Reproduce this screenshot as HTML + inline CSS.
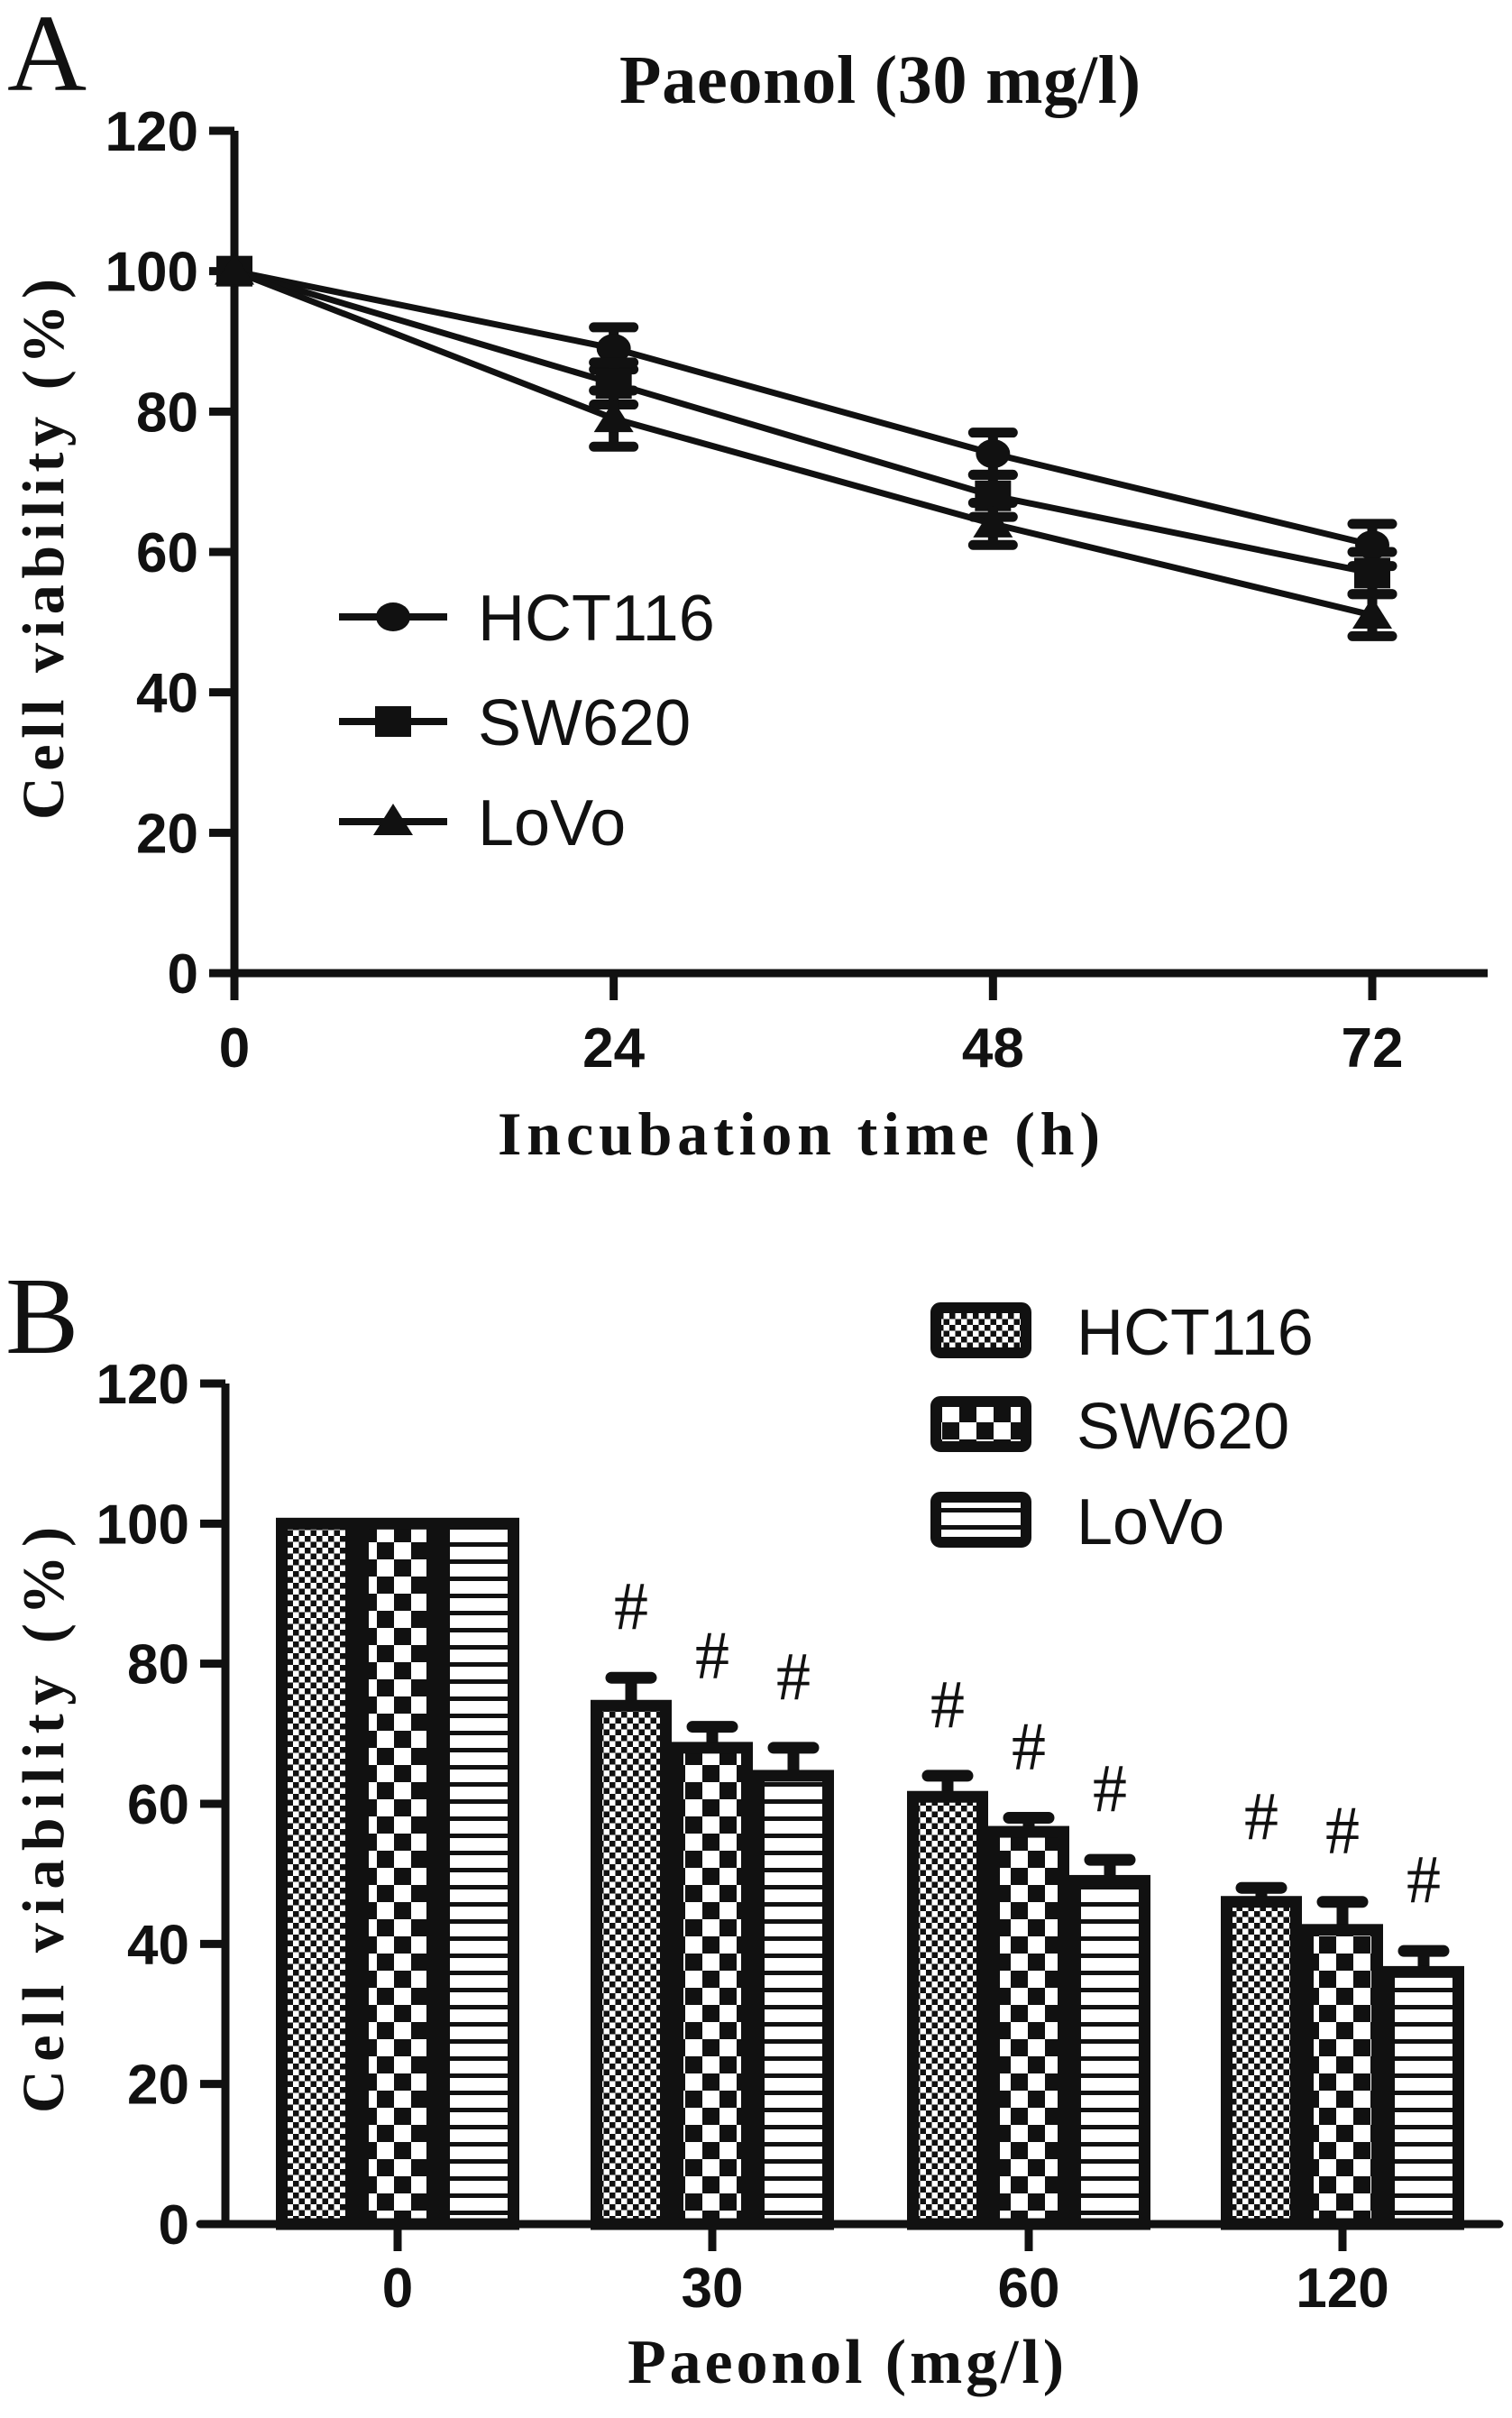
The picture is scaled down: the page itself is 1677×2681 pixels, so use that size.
<!DOCTYPE html>
<html><head><meta charset="utf-8"><style>
html,body{margin:0;padding:0;background:#fff;}
svg{display:block;}
.tick{font-family:"Liberation Sans Narrow","Liberation Sans",sans-serif;font-weight:bold;font-size:62px;fill:#111;}
.ser{font-family:"Liberation Serif",serif;fill:#111;}
.leg{font-family:"Liberation Sans",sans-serif;font-size:72px;fill:#111;}
</style></head><body>
<svg id="fig" width="1677" height="2681" viewBox="0 0 1677 2681" xmlns="http://www.w3.org/2000/svg">
<defs>
 <pattern id="pHCT" patternUnits="userSpaceOnUse" width="13" height="13"><rect width="13" height="13" fill="#fff"/><rect width="6.5" height="6.5" fill="#111"/><rect x="6.5" y="6.5" width="6.5" height="6.5" fill="#111"/></pattern>
 <pattern id="pSW" patternUnits="userSpaceOnUse" width="38" height="38"><rect width="38" height="38" fill="#fff"/><rect width="19" height="19" fill="#111"/><rect x="19" y="19" width="19" height="19" fill="#111"/></pattern>
 <pattern id="pLO" patternUnits="userSpaceOnUse" width="19" height="19"><rect width="19" height="19" fill="#fff"/><rect y="0" width="19" height="5" fill="#111"/></pattern>
</defs>
<g id="chartA"></g>
<g id="chartB"></g>
</svg>
<script>
// ---- Chart A data ----
const timesA = [0, 24, 48, 72];
const yTicksA = [0, 20, 40, 60, 80, 100, 120];
const seriesNamesA = ["HCT116", "SW620", "LoVo"];
const hctA = [100, 89, 74, 61];
const swA = [100, 84, 68, 57];
const loA = [100, 79, 64, 51];
const hctErrA = [0, 3, 3, 3];
const swErrA = [0, 3, 3, 3];
const loErrA = [0, 4, 3, 3];
// ---- Chart B data ----
const dosesB = ["0", "30", "60", "120"];
const yTicksB = [0, 20, 40, 60, 80, 100, 120];
const hctB = [100, 74, 61, 46];
const swB = [100, 68, 56, 42];
const loB = [100, 64, 49, 36];
const hctErrB = [0, 4, 3, 2];
const swErrB = [0, 3, 2, 4];
const loErrB = [0, 4, 3, 3];
const sigB = [false, true, true, true];

const NS = "http://www.w3.org/2000/svg";
function mk(parent, tag, attrs, text){const e=document.createElementNS(NS,tag);for(const k in attrs)e.setAttribute(k,attrs[k]);if(text!==undefined)e.textContent=text;parent.appendChild(e);return e;}

// ===== Chart A =====
const A = document.getElementById('chartA');
const axA = {x0:260, x1:1522, y0:1079, y1:145, xEnd:1650};
const xA = t => axA.x0 + (t/72)*(axA.x1-axA.x0);
const yA = v => axA.y0 - (v/120)*(axA.y0-axA.y1);
let e;
e = mk(A,'text',{x:8,y:100,class:'ser','font-size':122},'A');
 
e = mk(A,'text',{x:976,y:114,class:'ser','font-size':76,'font-weight':'bold','text-anchor':'middle',textLength:578},'Paeonol (30 mg/l)');
 
e = mk(A,'line',{x1:axA.x0,y1:axA.y1,x2:axA.x0,y2:axA.y0+30,stroke:'#111','stroke-width':9});
 
e = mk(A,'line',{x1:axA.x0-28,y1:axA.y0,x2:axA.xEnd,y2:axA.y0,stroke:'#111','stroke-width':9});
 
yTicksA.forEach(v=>{
  e = mk(A,'line',{x1:axA.x0-28,y1:yA(v),x2:axA.x0,y2:yA(v),stroke:'#111','stroke-width':9});
   
  e = mk(A,'text',{x:axA.x0-40,y:yA(v)+22,class:'tick','text-anchor':'end'},String(v));
   
});
timesA.forEach(t=>{
  e = mk(A,'line',{x1:xA(t),y1:axA.y0,x2:xA(t),y2:axA.y0+30,stroke:'#111','stroke-width':9});
   
  e = mk(A,'text',{x:xA(t),y:1183,class:'tick','text-anchor':'middle'},String(t));
   
});
e = mk(A,'text',{x:886,y:1280,class:'ser','font-size':68,'font-weight':'bold','text-anchor':'middle',textLength:668},'Incubation time (h)');
 
e = mk(A,'text',{x:0,y:0,class:'ser','font-size':66,'font-weight':'bold','text-anchor':'middle',textLength:600,transform:'translate(70,609) rotate(-90)'},'Cell viability (%)');
 

function marker(g,shape,cx,cy,s){
  if(shape==='circle') return mk(g,'ellipse',{cx:cx,cy:cy,rx:s*0.95,ry:s*0.8,fill:'#111'});
  if(shape==='square') return mk(g,'rect',{x:cx-s,y:cy-s*0.85,width:2*s,height:1.7*s,fill:'#111'});
  return mk(g,'polygon',{points:`${cx},${cy-s} ${cx+s*1.1},${cy+s*0.75} ${cx-s*1.1},${cy+s*0.75}`,fill:'#111'});
}
const seriesA = [[hctA,hctErrA,'circle'],[swA,swErrA,'square'],[loA,loErrA,'triangle']];
seriesA.forEach((s,si)=>{
  const [vals,errs,shape]=s;
  const g = mk(A,'g',{});
  
  
  e = mk(g,'polyline',{points:vals.map((v,i)=>xA(timesA[i])+','+yA(v)).join(' '),fill:'none',stroke:'#111','stroke-width':7});
   
  vals.forEach((v,i)=>{
    const x=xA(timesA[i]);
    if(errs[i]>0){
      e = mk(g,'path',{d:`M${x},${yA(v+errs[i])}V${yA(v-errs[i])}M${x-22},${yA(v+errs[i])}H${x+22}M${x-22},${yA(v-errs[i])}H${x+22}`,stroke:'#111','stroke-width':11,'stroke-linecap':'round',fill:'none'});
       
    }
    e = marker(g,shape,x,yA(v),20);
     
  });
});
const legYA=[684,800,911];
seriesNamesA.forEach((n,i)=>{
  const g = mk(A,'g',{});
   
  mk(g,'line',{x1:376,y1:legYA[i],x2:496,y2:legYA[i],stroke:'#111','stroke-width':8});
  marker(g,seriesA[i][2],436,legYA[i],20);
  mk(g,'text',{x:530,y:legYA[i]+26,class:'leg'},n);
});

// ===== Chart B =====
const B = document.getElementById('chartB');
const axB = {x0:250, y0:2466, y1:1534, xEnd:1663};
const centersB = [441, 790, 1141, 1489];
const barW = 90;
const yB = v => axB.y0 - (v/120)*(axB.y0-axB.y1);
e = mk(B,'text',{x:6,y:1500,class:'ser','font-size':122},'B');
 
e = mk(B,'line',{x1:axB.x0,y1:axB.y1,x2:axB.x0,y2:axB.y0,stroke:'#111','stroke-width':9});
 
yTicksB.forEach(v=>{
  e = mk(B,'line',{x1:axB.x0-28,y1:yB(v),x2:axB.x0,y2:yB(v),stroke:'#111','stroke-width':9});
   
  e = mk(B,'text',{x:axB.x0-40,y:yB(v)+22,class:'tick','text-anchor':'end'},String(v));
   
});
const seriesB=[[hctB,hctErrB,'url(#pHCT)','hct116'],[swB,swErrB,'url(#pSW)','sw620'],[loB,loErrB,'url(#pLO)','lovo']];
const bW = barW-13;
seriesB.forEach((s,si)=>{
  const [vals,errs,fill,nm]=s;
  vals.forEach((v,i)=>{
    const cx = centersB[i]+(si-1)*barW;
    if(errs[i]>0){
      e = mk(B,'path',{d:`M${cx},${yB(v)}V${yB(v+errs[i])}M${cx-22},${yB(v+errs[i])}H${cx+22}`,stroke:'#111','stroke-width':13,'stroke-linecap':'round'});
       
    }
    e = mk(B,'rect',{x:cx-bW/2,y:yB(v),width:bW,height:axB.y0-yB(v),fill:fill,stroke:'#111','stroke-width':13});
     
    if(sigB[i]){
      e = mk(B,'text',{x:cx,y:yB(v+errs[i])-54,class:'ser','font-size':76,'text-anchor':'middle'},'#');
       
    }
  });
});
e = mk(B,'line',{x1:axB.x0-28,y1:axB.y0,x2:axB.xEnd,y2:axB.y0,stroke:'#111','stroke-width':9,'stroke-linecap':'round'});
 
dosesB.forEach((d,i)=>{
  e = mk(B,'line',{x1:centersB[i],y1:axB.y0,x2:centersB[i],y2:axB.y0+30,stroke:'#111','stroke-width':9});
   
  e = mk(B,'text',{x:centersB[i],y:2558,class:'tick','text-anchor':'middle'},d);
   
});
e = mk(B,'text',{x:938,y:2642,class:'ser','font-size':70,'font-weight':'bold','text-anchor':'middle',textLength:484},'Paeonol (mg/l)');
 
e = mk(B,'text',{x:0,y:0,class:'ser','font-size':66,'font-weight':'bold','text-anchor':'middle',textLength:650,transform:'translate(70,2018) rotate(-90)'},'Cell viability (%)');
 
const legYB=[1445,1549,1655];
['HCT116','SW620','LoVo'].forEach((n,i)=>{
  const g = mk(B,'g',{});
   
  mk(g,'rect',{x:1038,y:legYB[i]+5,width:100,height:50,rx:5,fill:seriesB[i][2],stroke:'#111','stroke-width':12});
  mk(g,'text',{x:1194,y:legYB[i]+57,class:'leg'},n);
});
</script>
</body></html>
